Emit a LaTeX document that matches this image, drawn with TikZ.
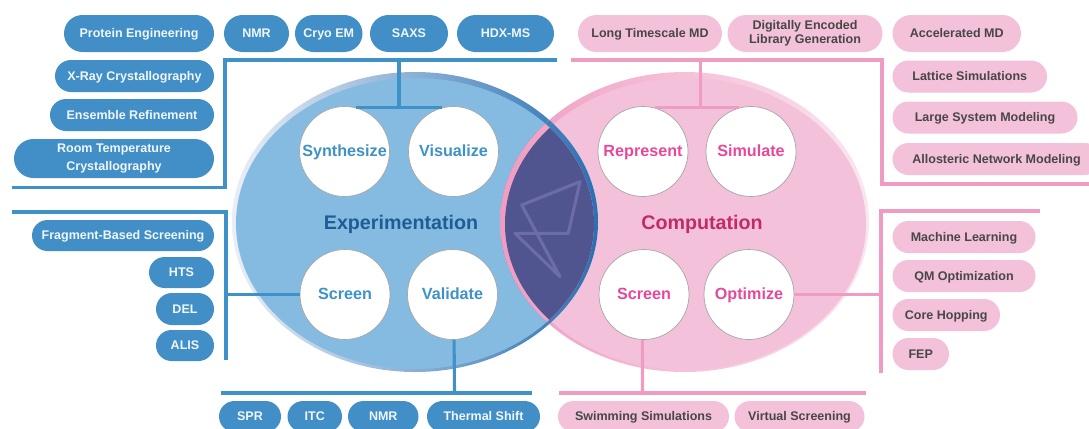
\documentclass[tikz,border=0pt]{standalone}
\usepackage{fontspec}
\setmainfont{Liberation Sans}
\usetikzlibrary{shapes.misc}
\definecolor{bluepillc}{HTML}{428FC7}
\definecolor{blueline}{HTML}{3F92C8}
\definecolor{bluefill}{HTML}{85BBE0}
\definecolor{bluedark}{HTML}{1F5C96}
\definecolor{bluering}{HTML}{2A70B2}
\definecolor{bluepale}{HTML}{EAEFF8}
\definecolor{bluemid}{HTML}{B9C6E3}
\definecolor{pinkfill}{HTML}{F3C1D9}
\definecolor{pinkline}{HTML}{F09CC2}
\definecolor{pinktext}{HTML}{E8489A}
\definecolor{pinkdark}{HTML}{C22A68}
\definecolor{lensfill}{HTML}{50548F}
\definecolor{lenslogo}{HTML}{6E6CA8}
\tikzset{
	pillw/.style={minimum width=#1*0.025cm},
	pillh/.style={minimum height=#1*0.025cm},
	pill/.style={rounded rectangle,inner sep=0pt,align=center,text height=7.2pt,text depth=1.3pt,font=\fontsize{8.9}{10.2}\selectfont\bfseries},
	twolines/.style={text height=,text depth=},
	bluepill/.style={pill,fill=bluepillc,text=white!92!bluepillc},
	pinkpill/.style={pill,fill=pinkfill,text=black!72},
	stage/.style={circle,fill=white,draw=black!35,line width=0.5pt,inner sep=0pt,minimum size=90*0.025cm,text height=8.8pt,text depth=2.2pt,font=\fontsize{11.5}{13}\selectfont\bfseries},
	blueconn/.style={draw=blueline,line width=2.2pt},
	pinkconn/.style={draw=pinkline,line width=2.2pt},
	bluering/.style={left color=bluepale,middle color=bluemid,right color=bluering},
	pinkring/.style={left color=pinkline,middle color=pinkline!80!white,right color=pinkfill!40!white}
}
\begin{document}
\begin{tikzpicture}[x=0.025cm,y=-0.025cm]
	\useasboundingbox (0,0) rectangle (1089,428);
	\clip (0,0) rectangle (1089,428);
	
	% the two fields and their overlap
	\shade[bluering] (415,222) ellipse [x radius=183,y radius=150];
	\fill[bluefill] (415,223.5) ellipse [x radius=179,y radius=145.5];
	\shade[pinkring] (684.5,222) ellipse [x radius=184.5,y radius=150];
	\fill[pinkfill] (685.5,224) ellipse [x radius=180.5,y radius=146];
	\begin{scope}
		\clip (684.5,222) ellipse [x radius=184.5,y radius=150];
		\shade[bluering] (415,222) ellipse [x radius=183,y radius=150];
		\clip (415,223.5) ellipse [x radius=179,y radius=145.5];
		\shade[pinkring] (684.5,222) ellipse [x radius=184.5,y radius=150];
		\fill[lensfill] (685.5,224) ellipse [x radius=180.5,y radius=146];
	\end{scope}
	\draw[lenslogo,line width=2.2pt,line join=round,line cap=round] (521.7,205) -- (580,181.7) -- (568.3,233.3) -- (515,233.3) -- (560,276.7) -- cycle;
	
	\node (experimentation) at (401,224) [text=bluedark,font=\fontsize{14}{16}\selectfont\bfseries] {Experimentation};
	\node (computation) at (702,224) [text=pinkdark,font=\fontsize{14}{16}\selectfont\bfseries] {Computation};
	
	% blue stages
	\node[stage,text=blueline] (synthesize) at (344.5,151.5) {Synthesize};
	\node[stage,text=blueline] (visualize) at (453.5,151.5) {Visualize};
	\node[stage,text=blueline] (screenblue) at (345,294.5) {Screen};
	\node[stage,text=blueline] (validate) at (452.5,294.5) {Validate};
	
	% pink stages
	\node[stage,text=pinktext] (represent) at (643,151.5) {Represent};
	\node[stage,text=pinktext] (simulate) at (751,151.5) {Simulate};
	\node[stage,text=pinktext] (screenpink) at (644,294.5) {Screen};
	\node[stage,text=pinktext] (optimize) at (749,294.5) {Optimize};
	
	% blue brackets
	\coordinate (tlA) at (12,187.5);
	\coordinate (tlB) at (225,187.5);
	\coordinate (tlC) at (225,60);
	\coordinate (tlD) at (557,60);
	\coordinate (tlStem) at (399,60);
	\draw[blueconn] (tlA) -- (tlB) -- (tlC) -- (tlD);
	\draw[blueconn] (synthesize.75) -- (visualize.105);
	\draw[blueconn] (tlStem) -- (tlStem |- synthesize.75);
	
	\coordinate (mlA) at (12,212);
	\coordinate (mlB) at (226,212);
	\coordinate (mlC) at (226,360);
	\draw[blueconn] (mlA) -- (mlB) -- (mlC);
	\draw[blueconn] (screenblue.west) -- (mlB |- screenblue.west);
	
	\coordinate (blA) at (221,393);
	\coordinate (blB) at (532,393);
	\coordinate (blStem) at (454.5,393);
	\draw[blueconn] (blA) -- (blB);
	\draw[blueconn] (validate.-88) -- (blStem);
	
	% pink brackets
	\coordinate (trA) at (571,60);
	\coordinate (trB) at (882,60);
	\coordinate (trC) at (882,184);
	\coordinate (trD) at (1089,184);
	\coordinate (trStem) at (700.5,60);
	\draw[pinkconn] (trA) -- (trB) -- (trC) -- (trD);
	\draw[pinkconn] (represent.75) -- (simulate.105);
	\draw[pinkconn] (trStem) -- (trStem |- represent.75);
	
	\coordinate (mrA) at (1040,211);
	\coordinate (mrB) at (881,211);
	\coordinate (mrC) at (881,373);
	\draw[pinkconn] (mrA) -- (mrB) -- (mrC);
	\draw[pinkconn] (optimize.east) -- (mrB |- optimize.east);
	
	\coordinate (brA) at (558.5,393);
	\coordinate (brB) at (866,393);
	\coordinate (brStem) at (642.5,393);
	\draw[pinkconn] (brA) -- (brB);
	\draw[pinkconn] (screenpink.-92) -- (brStem);
	
	% blue pills, top and left
	\node[bluepill,pillw=150,pillh=37] (protein) at (139,33.5) {Protein Engineering};
	\node[bluepill,pillw=65,pillh=37] (nmrtop) at (256.5,33.5) {NMR};
	\node[bluepill,pillw=67.5,pillh=37] (cryo) at (328.75,33.5) {Cryo EM};
	\node[bluepill,pillw=78,pillh=37] (saxs) at (409,33.5) {SAXS};
	\node[bluepill,pillw=97,pillh=37] (hdx) at (505.5,33.5) {HDX-MS};
	\node[bluepill,pillw=159,pillh=32] (xray) at (134.5,76) {X-Ray Crystallography};
	\node[bluepill,pillw=164,pillh=32] (ensemble) at (132,115) {Ensemble Refinement};
	\node[bluepill,twolines,pillw=200,pillh=39] (room) at (114,158.5) {Room Temperature\\[3pt] Crystallography};
	\node[bluepill,pillw=182,pillh=31] (fragment) at (123,235.5) {Fragment-Based Screening};
	\node[bluepill,pillw=65,pillh=31] (hts) at (181.5,272.5) {HTS};
	\node[bluepill,pillw=58,pillh=32] (del) at (185,309) {DEL};
	\node[bluepill,pillw=58,pillh=31] (alis) at (185,345.5) {ALIS};
	
	% blue pills, bottom
	\node[bluepill,pillw=62,pillh=31] (spr) at (250,416.5) {SPR};
	\node[bluepill,pillw=54.5,pillh=31] (itc) at (314.75,416.5) {ITC};
	\node[bluepill,pillw=70.5,pillh=31] (nmrlow) at (383.25,416.5) {NMR};
	\node[bluepill,pillw=113,pillh=31] (thermal) at (483.5,416.5) {Thermal Shift};
	
	% pink pills, top and right
	\node[pinkpill,pillw=144,pillh=37] (longmd) at (650,33.5) {Long Timescale MD};
	\node[pinkpill,twolines,pillw=155,pillh=37] (digital) at (805,33.5) {Digitally Encoded\\ Library Generation};
	\node[pinkpill,pillw=128.5,pillh=37] (accel) at (956.75,33.5) {Accelerated MD};
	\node[pinkpill,pillw=154.5,pillh=32] (lattice) at (969.75,76.5) {Lattice Simulations};
	\node[pinkpill,pillw=185,pillh=32] (large) at (985,117.5) {Large System Modeling};
	\node[pinkpill,pillw=208,pillh=32] (allo) at (996.5,159) {Allosteric Network Modeling};
	\node[pinkpill,pillw=143,pillh=32] (machine) at (964,237) {Machine Learning};
	\node[pinkpill,pillw=143,pillh=32] (qm) at (964,276) {QM Optimization};
	\node[pinkpill,pillw=107.5,pillh=32] (core) at (946.25,315) {Core Hopping};
	\node[pinkpill,pillw=56.5,pillh=32] (fep) at (920.75,354) {FEP};
	
	% pink pills, bottom
	\node[pinkpill,pillw=171,pillh=31] (swimming) at (643.5,416.5) {Swimming Simulations};
	\node[pinkpill,pillw=130,pillh=31] (virtual) at (799.5,416.5) {Virtual Screening};
\end{tikzpicture}
\end{document}
